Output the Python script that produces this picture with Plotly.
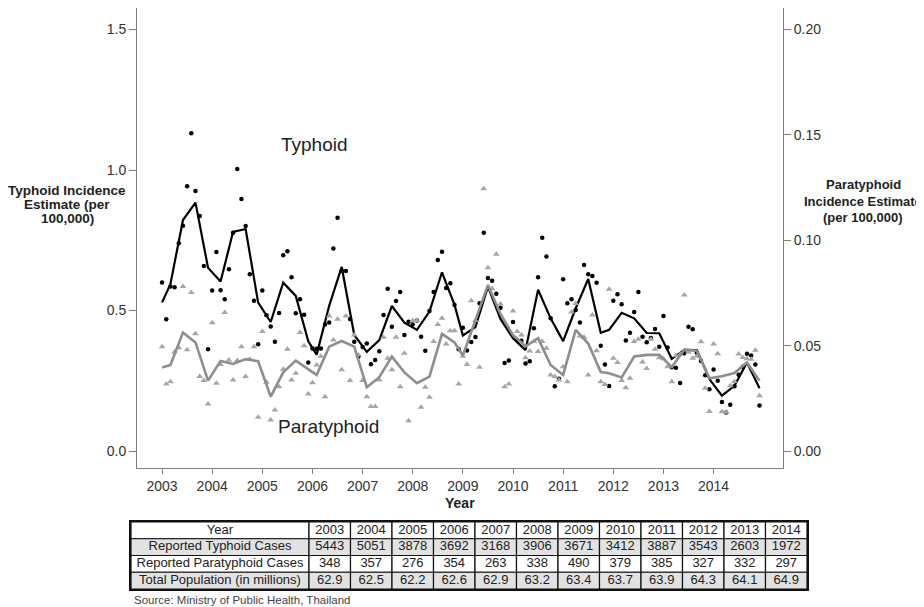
import plotly.graph_objects as go

# ---------------- data ----------------
years = list(range(2003, 2015))
year_labels = [str(y) for y in years]

typhoid_monthly = [
    0.600, 0.469, 0.585, 0.583, 0.739, 0.802, 0.942, 1.131, 0.925, 0.836, 0.658, 0.362,
    0.571, 0.708, 0.572, 0.540, 0.647, 0.777, 1.004, 0.897, 0.801, 0.629, 0.535, 0.380,
    0.571, 0.483, 0.443, 0.389, 0.491, 0.697, 0.711, 0.618, 0.490, 0.540, 0.485, 0.315,
    0.365, 0.364, 0.365, 0.450, 0.457, 0.721, 0.830, 0.642, 0.641, 0.470, 0.389, 0.336,
    0.370, 0.383, 0.309, 0.324, 0.355, 0.484, 0.577, 0.442, 0.534, 0.566, 0.413, 0.460,
    0.450, 0.464, 0.407, 0.357, 0.498, 0.566, 0.680, 0.709, 0.580, 0.597, 0.520, 0.362,
    0.439, 0.358, 0.388, 0.406, 0.526, 0.777, 0.616, 0.606, 0.560, 0.510, 0.313, 0.322,
    0.459, 0.395, 0.392, 0.311, 0.319, 0.437, 0.618, 0.759, 0.692, 0.472, 0.230, 0.257,
    0.611, 0.526, 0.540, 0.502, 0.457, 0.662, 0.629, 0.623, 0.599, 0.375, 0.308, 0.231,
    0.535, 0.558, 0.522, 0.393, 0.421, 0.495, 0.566, 0.407, 0.387, 0.402, 0.434, 0.371,
    0.480, 0.368, 0.298, 0.296, 0.242, 0.348, 0.442, 0.433, 0.350, 0.320, 0.270, 0.220,
    0.290, 0.250, 0.174, 0.137, 0.165, 0.230, 0.271, 0.300, 0.346, 0.340, 0.308, 0.162,
]

paratyphoid_monthly = [
    0.0495, 0.0318, 0.0329, 0.0470, 0.0490, 0.0780, 0.0480, 0.0752, 0.0556, 0.0353, 0.0334, 0.0223,
    0.0609, 0.0321, 0.0410, 0.0657, 0.0432, 0.0337, 0.0430, 0.0495, 0.0353, 0.0435, 0.0495, 0.0160,
    0.0567, 0.0326, 0.0147, 0.0195, 0.0305, 0.0388, 0.0483, 0.0337, 0.0369, 0.0562, 0.0499, 0.0271,
    0.0324, 0.0408, 0.0450, 0.0258, 0.0641, 0.0527, 0.0625, 0.0385, 0.0641, 0.0334, 0.0550, 0.0456,
    0.0334, 0.0258, 0.0211, 0.0211, 0.0337, 0.0540, 0.0440, 0.0385, 0.0540, 0.0305, 0.0464, 0.0144,
    0.0619, 0.0619, 0.0207, 0.0302, 0.0255, 0.0520, 0.0600, 0.0630, 0.0508, 0.0570, 0.0570, 0.0318,
    0.0450, 0.0410, 0.0713, 0.0619, 0.0397, 0.1244, 0.0870, 0.0770, 0.0934, 0.0698, 0.0305, 0.0318,
    0.0664, 0.0567, 0.0550, 0.0443, 0.0474, 0.0520, 0.0472, 0.0520, 0.0487, 0.0361, 0.0353, 0.0337,
    0.0400, 0.0329, 0.0660, 0.0700, 0.0546, 0.0540, 0.0361, 0.0645, 0.0476, 0.0329, 0.0315, 0.0768,
    0.0440, 0.0420, 0.0335, 0.0300, 0.0345, 0.0519, 0.0530, 0.0422, 0.0392, 0.0530, 0.0483, 0.0443,
    0.0438, 0.0400, 0.0329, 0.0452, 0.0458, 0.0740, 0.0468, 0.0440, 0.0450, 0.0518, 0.0298, 0.0187,
    0.0508, 0.0462, 0.0186, 0.0184, 0.0310, 0.0330, 0.0460, 0.0444, 0.0438, 0.0435, 0.0478, 0.0262,
]

typhoid_trend_months = [0, 2, 5, 8, 11, 14, 17, 20, 23, 26, 29, 32, 35, 37, 40, 43, 46, 49, 52, 55,
                        58, 61, 64, 67, 70, 72, 75, 78, 81, 84, 87, 90, 93, 96, 99, 102, 105, 107,
                        110, 113, 116, 119, 122, 125, 128, 131, 134, 137, 140, 143]
typhoid_trend = [0.529, 0.594, 0.822, 0.884, 0.652, 0.603, 0.780, 0.790, 0.528, 0.459, 0.599, 0.552,
                 0.390, 0.343, 0.517, 0.655, 0.413, 0.353, 0.395, 0.516, 0.457, 0.431, 0.496, 0.636,
                 0.520, 0.411, 0.441, 0.585, 0.470, 0.401, 0.359, 0.574, 0.472, 0.391, 0.508, 0.612,
                 0.421, 0.431, 0.492, 0.472, 0.420, 0.419, 0.328, 0.360, 0.359, 0.256, 0.197, 0.232,
                 0.315, 0.223]

paratyphoid_trend_months = [0, 2, 5, 8, 11, 14, 17, 20, 23, 26, 29, 32, 37, 40, 43, 46, 49, 52, 55,
                            58, 61, 64, 67, 70, 72, 75, 78, 81, 84, 87, 90, 93, 96, 99, 102, 105, 107,
                            110, 113, 116, 119, 122, 125, 128, 131, 134, 137, 140, 143]
paratyphoid_trend = [0.0396, 0.0408, 0.0562, 0.0515, 0.0334, 0.0427, 0.0413, 0.0436, 0.0426, 0.0258,
                     0.0373, 0.0429, 0.0361, 0.0495, 0.0522, 0.0495, 0.0302, 0.0350, 0.0448, 0.0373,
                     0.0322, 0.0353, 0.0556, 0.0515, 0.0453, 0.0622, 0.0788, 0.0650, 0.0550, 0.0497,
                     0.0535, 0.0408, 0.0361, 0.0575, 0.0510, 0.0375, 0.0369, 0.0349, 0.0448, 0.0456,
                     0.0456, 0.0398, 0.0481, 0.0476, 0.0345, 0.0355, 0.0370, 0.0420, 0.0333]

typhoid_cases = [5443, 5051, 3878, 3692, 3168, 3906, 3671, 3412, 3887, 3543, 2603, 1972]
paratyphoid_cases = [348, 357, 276, 354, 263, 338, 490, 379, 385, 327, 332, 297]
population_millions = ["62.9", "62.5", "62.2", "62.6", "62.9", "63.2", "63.4", "63.7", "63.9", "64.3", "64.1", "64.9"]
row_labels = ["Year", "Reported Typhoid Cases", "Reported Paratyphoid Cases", "Total Population (in millions)"]

left_ticks = [0.0, 0.5, 1.0, 1.5]
left_tick_text = ["0.0", "0.5", "1.0", "1.5"]
right_ticks = [0.00, 0.05, 0.10, 0.15, 0.20]
right_tick_text = ["0.00", "0.05", "0.10", "0.15", "0.20"]

# ---------------- layout helpers ----------------
# the page body adds an 8px margin; the figure is sized so it ends at the window edge
OFF = 8
W, H = 924 - OFF, 607 - OFF
def px(sx):
    return (sx - OFF) / W
def py(sy):
    return 1 - (sy - OFF) / H

FONT = "Arial, Liberation Sans, sans-serif"
AX = "#808080"
TRI = "#a6a6a6"
GLINE = "#8e8e8e"
TXT = "#333333"

month_x = [years[0] + i / 12 for i in range(len(typhoid_monthly))]
t_trend_x = [years[0] + m / 12 for m in typhoid_trend_months]
p_trend_x = [years[0] + m / 12 for m in paratyphoid_trend_months]

fig = go.Figure()

fig.add_trace(go.Scatter(x=month_x, y=paratyphoid_monthly, mode="markers", yaxis="y2",
                         marker=dict(symbol="triangle-up", size=6, color=TRI), showlegend=False,
                         hoverinfo="skip"))
fig.add_trace(go.Scatter(x=month_x, y=typhoid_monthly, mode="markers",
                         marker=dict(symbol="circle", size=4.5, color="#000000"), showlegend=False,
                         hoverinfo="skip"))
fig.add_trace(go.Scatter(x=t_trend_x, y=typhoid_trend, mode="lines",
                         line=dict(color="#000000", width=2.2), showlegend=False, hoverinfo="skip"))
fig.add_trace(go.Scatter(x=p_trend_x, y=paratyphoid_trend, mode="lines", yaxis="y2",
                         line=dict(color=GLINE, width=2.6), showlegend=False, hoverinfo="skip"))

# ---------------- table drawn as bar cells on its own axes ----------------
first_w, year_w = 178.0, 41.5
col_edges = [0.0, first_w] + [first_w + year_w * (k + 1) for k in range(len(years))]
n_cols = len(col_edges) - 1
n_rows = len(row_labels)

table_rows = [
    year_labels,
    [str(v) for v in typhoid_cases],
    [str(v) for v in paratyphoid_cases],
    population_millions,
]
row_fill = ["#ffffff", "#e2e2e2", "#ffffff", "#e2e2e2"]

cell_y, cell_base, cell_w, cell_fill = [], [], [], []
tx, ty, tt = [], [], []
for r in range(n_rows):
    for c in range(n_cols):
        cell_y.append(r + 0.5)
        cell_base.append(col_edges[c])
        cell_w.append(col_edges[c + 1] - col_edges[c])
        cell_fill.append(row_fill[r])
        tx.append((col_edges[c] + col_edges[c + 1]) / 2)
        ty.append(r + 0.5)
        tt.append(row_labels[r] if c == 0 else table_rows[r][c - 1])

fig.add_trace(go.Bar(orientation="h", y=cell_y, x=cell_w, base=cell_base, width=1.0,
                     xaxis="x2", yaxis="y3",
                     marker=dict(color=cell_fill, line=dict(color="#111111", width=1.2)),
                     showlegend=False, hoverinfo="skip"))
fig.add_trace(go.Scatter(x=tx, y=ty, text=tt, mode="text", xaxis="x2", yaxis="y3",
                         textfont=dict(family=FONT, size=13, color="#222222"),
                         textposition="middle center", showlegend=False, hoverinfo="skip"))

# ---------------- axes ----------------
ylo, yhi = -17 / 281, 443 / 281
scale = 0.2 / 1.5

fig.update_layout(
    width=W, height=H,
    margin=dict(l=0, r=0, t=0, b=0),
    paper_bgcolor="#ffffff", plot_bgcolor="#ffffff",
    font=dict(family=FONT, color=TXT, size=14),
    showlegend=False, barmode="overlay",
    xaxis=dict(domain=[px(137), px(783)], range=[2002.5, 2015.385],
               tickmode="array", tickvals=years, ticktext=year_labels,
               ticks="outside", ticklen=5, tickcolor=AX, showline=True, linecolor=AX, linewidth=1,
               showgrid=False, zeroline=False, tickfont=dict(size=14, color=TXT), anchor="y"),
    yaxis=dict(domain=[py(468), 1.0], range=[ylo, yhi],
               tickmode="array", tickvals=left_ticks, ticktext=left_tick_text,
               ticks="outside", ticklen=7, tickcolor=AX, showline=True, linecolor=AX, linewidth=1,
               showgrid=False, zeroline=False, tickfont=dict(size=14, color=TXT), anchor="x"),
    yaxis2=dict(overlaying="y", side="right", range=[ylo * scale, yhi * scale],
                tickmode="array", tickvals=right_ticks, ticktext=right_tick_text,
                ticks="outside", ticklen=7, tickcolor=AX, showline=True, linecolor=AX, linewidth=1,
                showgrid=False, zeroline=False, tickfont=dict(size=14, color=TXT), anchor="x"),
    xaxis2=dict(domain=[px(131), px(131 + col_edges[-1])], range=[0, col_edges[-1]],
                anchor="y3", showticklabels=False, ticks="", showgrid=False, zeroline=False,
                showline=True, mirror=True, linecolor="#111111", linewidth=1.5, fixedrange=True),
    yaxis3=dict(domain=[py(589), py(522)], range=[n_rows, 0], anchor="x2",
                showticklabels=False, ticks="", showgrid=False, zeroline=False,
                showline=True, mirror=True, linecolor="#111111", linewidth=1.5, fixedrange=True),
)

def ann(text, sx, sy, size, bold=False, color="#222222", xanchor="center"):
    fig.add_annotation(text=("<b>%s</b>" % text) if bold else text, x=px(sx), y=py(sy),
                       xref="paper", yref="paper", showarrow=False, xanchor=xanchor, yanchor="middle",
                       font=dict(family=FONT, size=size, color=color), align="center")

ann("Typhoid", 314, 145, 19)
ann("Paratyphoid", 328, 426, 19)
ann("Year", 460, 503, 14, bold=True)
for line, sy in zip(["Typhoid Incidence", "Estimate (per", "100,000)"], [190, 204.5, 219]):
    ann(line, 67, sy, 13.5, bold=True)
for line, sy in zip(["Paratyphoid", "Incidence Estimate", "(per 100,000)"], [185, 201.5, 218]):
    ann(line, 863, sy, 13, bold=True)
ann("Source: Ministry of Public Health, Thailand", 132, 600, 11.5, color="#444444", xanchor="left")

fig.write_html("out.html")
